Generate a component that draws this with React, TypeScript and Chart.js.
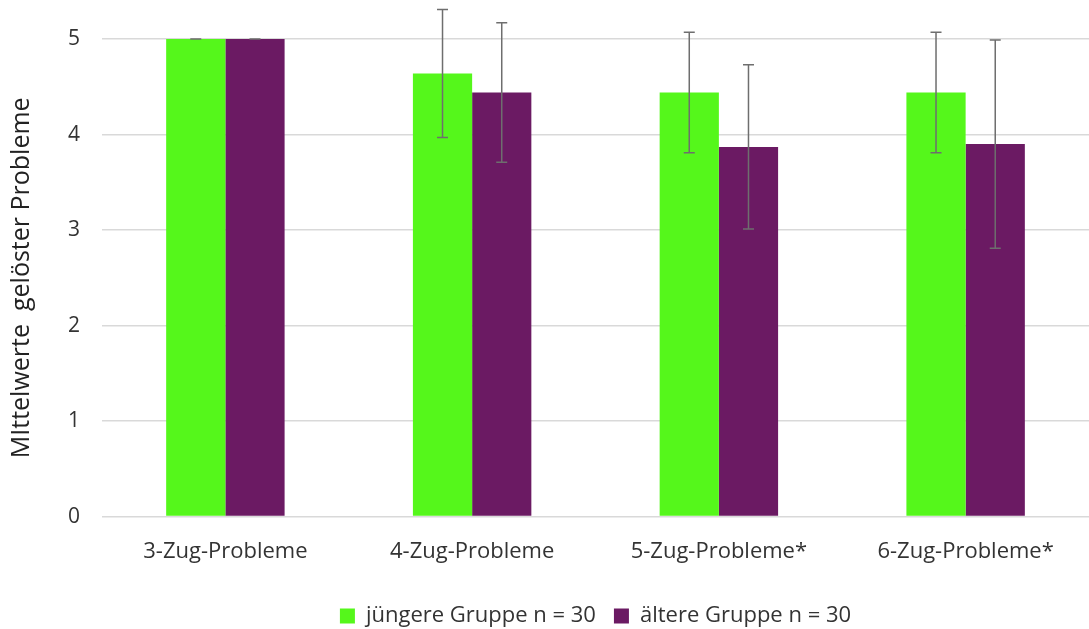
import React, { useEffect, useRef } from "react";
import { Chart, registerables } from "chart.js";

Chart.register(...registerables);

const categories = ["3-Zug-Probleme", "4-Zug-Probleme", "5-Zug-Probleme*", "6-Zug-Probleme*"];
const youngerMeans = [5.0, 4.64, 4.44, 4.44];
const youngerSD = [0.0, 0.67, 0.63, 0.63];
const olderMeans = [5.0, 4.44, 3.87, 3.9];
const olderSD = [0.0, 0.73, 0.86, 1.09];
const yTicks = [0, 1, 2, 3, 4, 5];

const GREEN = "#55f71b";
const PURPLE = "#6b1a63";
const FONT = "'Open Sans', 'Liberation Sans', sans-serif";

const errorBars = {
  id: "errorBars",
  afterDatasetsDraw(chart: any) {
    const ctx = chart.ctx;
    const y = chart.scales.y;
    const sds = [youngerSD, olderSD];
    ctx.save();
    ctx.strokeStyle = "#6e6e6e";
    ctx.lineWidth = 1.5;
    chart.data.datasets.forEach((ds: any, di: number) => {
      const meta = chart.getDatasetMeta(di);
      meta.data.forEach((bar: any, i: number) => {
        const v = ds.data[i];
        const sd = sds[di][i];
        const x = bar.x;
        const top = y.getPixelForValue(v + sd);
        const bot = y.getPixelForValue(v - sd);
        ctx.beginPath();
        ctx.moveTo(x, top);
        ctx.lineTo(x, bot);
        ctx.moveTo(x - 5.5, top);
        ctx.lineTo(x + 5.5, top);
        ctx.moveTo(x - 5.5, bot);
        ctx.lineTo(x + 5.5, bot);
        ctx.stroke();
      });
    });
    ctx.restore();
  },
};

export default function App() {
  const ref = useRef<HTMLCanvasElement>(null);
  useEffect(() => {
    document.body.style.margin = "0";
    const chart = new Chart(ref.current!, {
      type: "bar",
      data: {
        labels: categories,
        datasets: [
          { label: "jüngere Gruppe n = 30", data: youngerMeans, backgroundColor: GREEN },
          { label: "ältere Gruppe n = 30", data: olderMeans, backgroundColor: PURPLE },
        ],
      },
      options: {
        animation: false,
        responsive: false,
        layout: { padding: { top: 39, right: 0, left: 7, bottom: -8 } },
        datasets: { bar: { barPercentage: 1, categoryPercentage: 0.48 } } as any,
        scales: {
          x: {
            grid: { display: false, drawTicks: false },
            border: { display: false },
            ticks: { color: "#333", font: { family: FONT, size: 22 }, padding: 22 },
          },
          y: {
            min: 0,
            max: 5,
            afterBuildTicks: (s: any) => {
              s.ticks = yTicks.map((v) => ({ value: v }));
            },
            grid: { color: "#d9d9d9", lineWidth: 1.5, drawTicks: false },
            border: { display: false },
            ticks: { color: "#333", font: { family: FONT, size: 21 }, padding: 22 },
            title: {
              display: true,
              text: "MIttelwerte  gelöster Probleme",
              color: "#222",
              font: { family: FONT, size: 25 },
              padding: { top: 0, bottom: 9 },
            },
          },
        },
        plugins: {
          legend: {
            position: "bottom",
            fullSize: false,
            labels: {
              color: "#333",
              font: { family: FONT, size: 22 },
              boxWidth: 15,
              boxHeight: 15,
              padding: 18,
            },
          },
          tooltip: { enabled: false },
        },
      },
      plugins: [errorBars],
    });
    return () => chart.destroy();
  }, []);
  return <canvas ref={ref} width={1089} height={629} style={{ display: "block" }} />;
}
